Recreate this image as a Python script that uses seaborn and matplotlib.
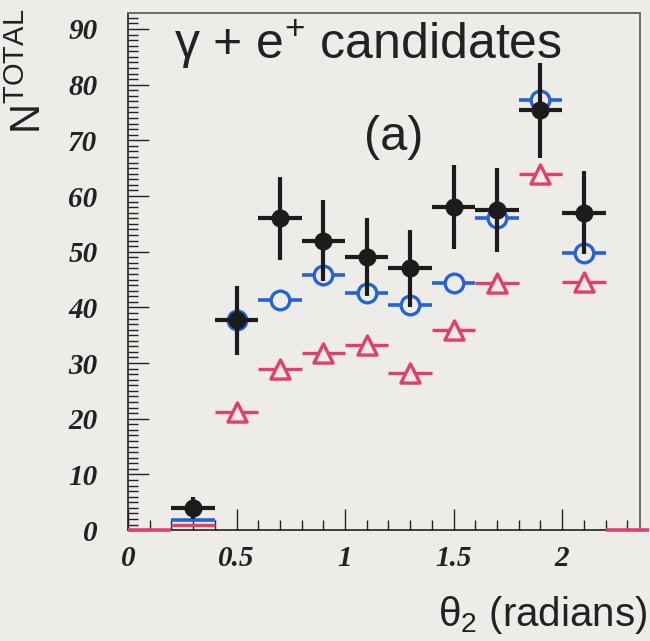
import numpy as np
import pandas as pd
import matplotlib
matplotlib.use("Agg")
import matplotlib.pyplot as plt
from matplotlib.ticker import MultipleLocator
import seaborn as sns

# bin centres (theta_2, radians), bin half-width 0.1
theta = [0.3, 0.5, 0.7, 0.9, 1.1, 1.3, 1.5, 1.7, 1.9, 2.1]
n_data = [4, 37.7, 56, 52, 49, 47, 58, 57.5, 75.4, 57]
n_data_err = [2, 6.2, 7.5, 7.2, 7, 6.9, 7.6, 7.6, 8.5, 7.5]
n_blue = [1.8, 37.7, 41.3, 45.8, 42.5, 40.4, 44.3, 56, 77.2, 49.7]
n_red = [0.9, 21.2, 29, 31.8, 33.2, 28.2, 35.9, 44.3, 64, 44.5]
# empty bins drawn at zero
empty_bins = [0.1, 2.3]
empty_vals = [0, 0]

x_ticks = [0, 0.5, 1, 1.5, 2]
x_tick_labels = ["0", "0.5", "1", "1.5", "2"]
y_ticks = [0, 10, 20, 30, 40, 50, 60, 70, 80, 90]

half_width = 0.1
bg = "#edece9"
c_black = "#1c1c1c"
c_blue = "#2463d6"
c_red = "#e2406c"
c_text = "#222222"

df = pd.DataFrame({"theta": theta, "data": n_data, "err": n_data_err,
                   "blue": n_blue, "red": n_red})
shown = df[df["theta"] > 0.4]

sns.set_theme(style="white")
plt.rcParams["mathtext.fontset"] = "custom"
plt.rcParams["mathtext.rm"] = "Liberation Sans"
plt.rcParams["mathtext.it"] = "Liberation Sans:italic"

fig = plt.figure(figsize=(6.5, 6.41), dpi=100, facecolor=bg)
ax = fig.add_axes([0.197, 0.173, 0.788, 0.807])
ax.set_facecolor(bg)

# red series
ax.errorbar(empty_bins, empty_vals, xerr=half_width, fmt="none",
            ecolor=c_red, elinewidth=2.6, zorder=3, clip_on=False)
ax.errorbar(df["theta"], df["red"], xerr=half_width, fmt="none",
            ecolor=c_red, elinewidth=2.4, zorder=3)
sns.scatterplot(data=shown, x="theta", y="red", marker="^", s=190,
                facecolor=bg, edgecolor=c_red, linewidth=2.4, zorder=4, ax=ax)

# blue series
ax.errorbar(df["theta"], df["blue"], xerr=half_width, fmt="none",
            ecolor=c_blue, elinewidth=2.6, zorder=5)
sns.scatterplot(data=shown, x="theta", y="blue", marker="o", s=180,
                facecolor=bg, edgecolor=c_blue, linewidth=2.4, zorder=6, ax=ax)

# data (black)
ax.errorbar(df["theta"], df["data"], xerr=half_width, yerr=df["err"], fmt="none",
            ecolor=c_black, elinewidth=3.0, zorder=7)
sns.scatterplot(data=df, x="theta", y="data", marker="o", s=170,
                color=c_black, edgecolor=c_black, linewidth=0, zorder=8, ax=ax)

ax.set_xlim(0, 2.36)
ax.set_ylim(0, 92.9)
ax.set_xlabel("")
ax.set_ylabel("")

ax.set_xticks(x_ticks, labels=x_tick_labels)
ax.set_yticks(y_ticks, labels=[str(v) for v in y_ticks])
ax.xaxis.set_minor_locator(MultipleLocator(0.1))
ax.yaxis.set_minor_locator(MultipleLocator(1))
ax.tick_params(which="both", direction="in", color=c_text, width=1.0,
               bottom=True, left=True, top=False, right=False)
ax.tick_params(which="major", length=15)
ax.tick_params(which="minor", length=7)
ax.tick_params(axis="y", which="major", pad=22)
ax.tick_params(axis="x", which="major", pad=11)
for lab in ax.get_xticklabels() + ax.get_yticklabels():
    lab.set_family("Liberation Serif")
    lab.set_style("italic")
    lab.set_weight("bold")
    lab.set_fontsize(21)
    lab.set_color(c_text)

for side in ["left", "bottom"]:
    ax.spines[side].set_color(c_text)
    ax.spines[side].set_linewidth(1.2)
for side in ["top", "right"]:
    ax.spines[side].set_color("#6a6a6a")
    ax.spines[side].set_linewidth(1.4)

fig.text(0.268, 0.908, "γ + e$^{+}$ candidates", family="Liberation Sans",
         fontsize=36, color=c_text, ha="left", va="baseline")
fig.text(0.605, 0.785, "(a)", family="Liberation Sans",
         fontsize=35, color=c_text, ha="center", va="center")
fig.text(0.046, 0.889, "N$^{\\mathrm{TOTAL}}$", family="Liberation Sans",
         fontsize=30, color=c_text, ha="center", va="center", rotation=90)
fig.text(0.996, 0.040, "θ$_{\\mathrm{2}}$ (radians)", family="Liberation Sans",
         fontsize=29, color=c_text, ha="right", va="center")

fig.savefig("out.png", dpi=100, facecolor=bg)
